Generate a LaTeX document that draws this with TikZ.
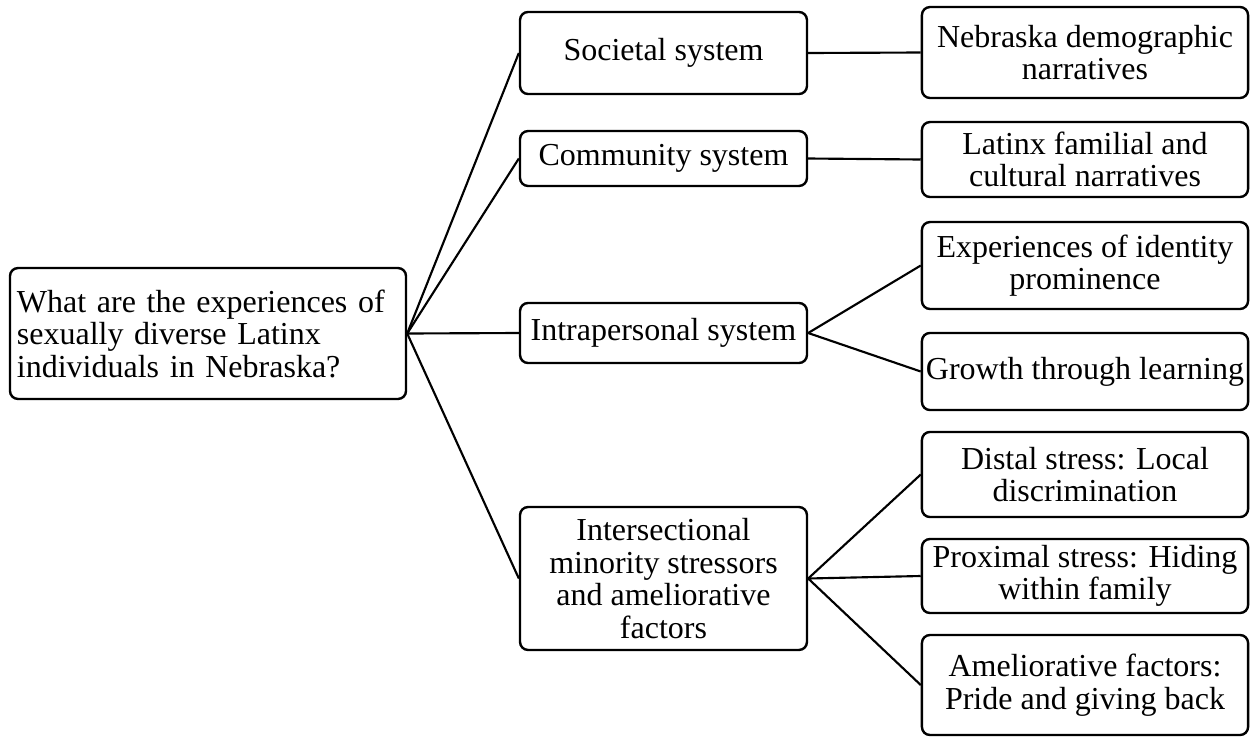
\documentclass[tikz,border=0pt]{standalone}
\usepackage{fontspec}
\setmainfont{Liberation Serif}
\usetikzlibrary{positioning}

\begin{document}
\begin{tikzpicture}[
    x=0.375pt, y=-0.375pt,
    box/.style={rectangle, draw, rounded corners=3pt, line width=0.9pt,
        inner sep=0pt, align=center, text=black,
        font=\fontsize{12}{12.2}\selectfont},
    mid/.style={box, minimum width=107.6pt},
    leaf/.style={box, minimum width=122.3pt},
    link/.style={line width=0.8pt}
]

    \useasboundingbox (0,0) rectangle (1253,736);

    % Nodes ------------------------------------------------------

    \node[box, align=left, text width=143.3pt, inner xsep=2.6pt,
        minimum height=49.1pt] (question) at (208,333.5)
        {What are the experiences of\\sexually diverse Latinx\\individuals in Nebraska?};

    \node[mid, minimum height=30.75pt] (societal) at (663.5,53) {Societal system};
    \node[mid, minimum height=20.6pt] (community) at (663.5,158.5) {Community system};
    \node[mid, minimum height=22.5pt] (intra) at (663.5,333) {Intrapersonal system};
    \node[mid, minimum height=53.6pt] (inter) at (663.5,578.5)
        {Intersectional\\minority stressors\\and ameliorative\\factors};

    % leaves
    \node[leaf, minimum height=34.1pt] (demog) at (1085,52.5) {Nebraska demographic\\narratives};
    \node[leaf, minimum height=28.1pt] (famil) at (1085,159.5) {Latinx familial and\\cultural narratives};
    \node[leaf, minimum height=32.6pt] (ident) at (1085,265.5) {Experiences of identity\\prominence};
    \node[leaf, minimum height=28.9pt] (growth) at (1085,371.5) {Growth through learning};
    \node[leaf, minimum height=31.9pt] (distal) at (1085,474.5) {Distal stress: Local\\discrimination};
    \node[leaf, minimum height=27.75pt] (proximal) at (1085,576) {Proximal stress: Hiding\\within family};
    \node[leaf, minimum height=37.5pt] (amel) at (1085,685) {Ameliorative factors:\\Pride and giving back};

    % Lines ---------------------------------------------------

    \draw[link] (question.east) -- (societal.west);
    \draw[link] (question.east) -- (community.west);
    \draw[link] (question.east) -- (intra.west);
    \draw[link] (question.east) -- (inter.west);

    \draw[link] (societal.east) -- (demog.west);
    \draw[link] (community.east) -- (famil.west);
    \draw[link] (intra.east) -- (ident.west);
    \draw[link] (intra.east) -- (growth.west);
    \draw[link] (inter.east) -- (distal.west);
    \draw[link] (inter.east) -- (proximal.west);
    \draw[link] (inter.east) -- (amel.west);

\end{tikzpicture}
\end{document}
